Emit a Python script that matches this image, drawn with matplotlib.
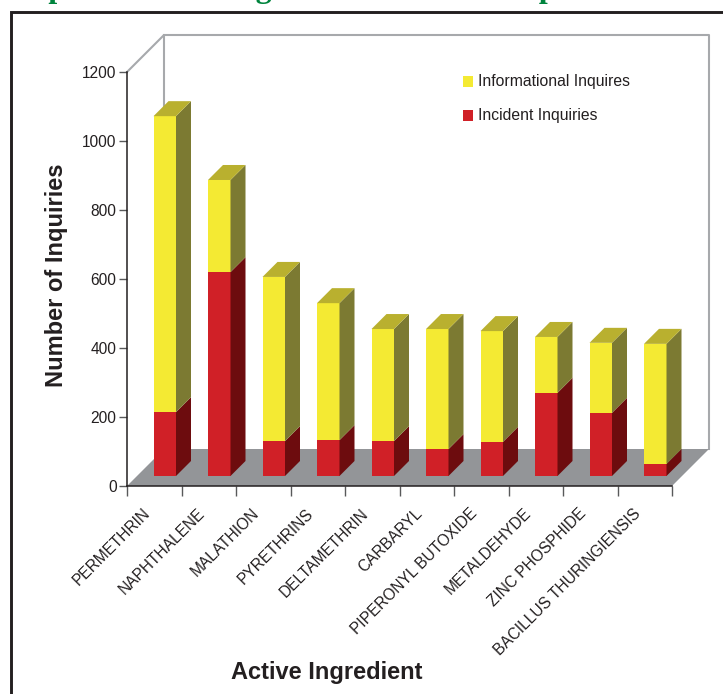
import matplotlib
matplotlib.use("Agg")
import matplotlib.pyplot as plt
from matplotlib.patches import Polygon, Rectangle

plt.rcParams['font.family'] = ['Liberation Sans', 'DejaVu Sans']

categories = ["PERMETHRIN", "NAPHTHALENE", "MALATHION", "PYRETHRINS", "DELTAMETHRIN",
              "CARBARYL", "PIPERONYL BUTOXIDE", "METALDEHYDE", "ZINC PHOSPHIDE",
              "BACILLUS THURINGIENSIS"]
incident = [185, 591, 101, 104, 101, 78, 99, 241, 183, 35]
informational = [858, 267, 476, 397, 325, 348, 321, 162, 203, 348]
y_ticks = [0, 200, 400, 600, 800, 1000, 1200]
series_names = ["Informational Inquires", "Incident Inquiries"]

W, H = 723, 694
L, R, B, T = 127, 672, 486, 72
fig = plt.figure(figsize=(W / 100, H / 100), dpi=100, facecolor="white")
ax = fig.add_axes([L / W, 1 - B / H, (R - L) / W, (B - T) / H])
ax.set_xlim(0, len(categories))
ax.set_ylim(0, 1200)
ax.patch.set_alpha(0)
for s in ("top", "right"):
    ax.spines[s].set_visible(False)
for s in ("left", "bottom"):
    ax.spines[s].set_linewidth(1.1)
    ax.spines[s].set_color("#231f20")
    ax.spines[s].set_zorder(6)

px = len(categories) / (R - L)   # data x per pixel
py = 1200 / (B - T)              # data y per pixel

GREY = "#a7a9ac"
n = len(categories)
# floor and walls
dx, dy = 37 * px, 37 * py
ax.add_patch(Polygon([(0, 0), (n, 0), (n + dx, dy), (dx, dy)], closed=True,
                     fc="#939598", ec="none", zorder=1, clip_on=False))
ax.plot([0, dx, dx], [1200, 1200 + dy, dy], color=GREY, lw=1.5, zorder=1.5, clip_on=False)
ax.plot([dx, n + dx, n + dx], [1200 + dy, 1200 + dy, dy], color=GREY, lw=1.5, zorder=0.5, clip_on=False)

# bars
bw = 22.5 * px
shift = 10.5 * px
depth_x, depth_y = 15 * px, 15 * py
base = 10 * py
def bar3d(x0, y0, y1, front, side, top=None, z=3):
    x1 = x0 + bw
    ax.add_patch(Rectangle((x0, y0), bw, y1 - y0, fc=front, ec="none", zorder=z, clip_on=False))
    ax.add_patch(Polygon([(x1, y0), (x1 + depth_x, y0 + depth_y), (x1 + depth_x, y1 + depth_y), (x1, y1)],
                         closed=True, fc=side, ec="none", zorder=z, clip_on=False))
    if top:
        ax.add_patch(Polygon([(x0, y1), (x1, y1), (x1 + depth_x, y1 + depth_y), (x0 + depth_x, y1 + depth_y)],
                             closed=True, fc=top, ec="none", zorder=z, clip_on=False))

for i, (a, b) in enumerate(zip(incident, informational)):
    x0 = i + 0.5 - bw / 2 + shift
    bar3d(x0, base, base + a, "#d02027", "#6d0c0e", z=3 + i * 0.01)
    bar3d(x0, base + a, base + a + b, "#f4ea33", "#7c7a32", "#b9b02f", z=3 + i * 0.01)

# axes furniture
ax.set_yticks(y_ticks)
ax.set_xticks(range(n + 1))
ax.set_xticklabels([])
ax.tick_params(axis="y", length=6, width=1.0, color="#58595b", labelsize=11.2, labelcolor="#231f20", pad=1.5)
ax.tick_params(axis="x", length=7.5, width=1.0, color="#58595b")
ax.get_xticklines()[0].set_color("#231f20")

for i, c in enumerate(categories):
    ax.annotate(c, xy=(i + 1, 0), xycoords="data", xytext=(-34, -25), textcoords="offset pixels",
                rotation=45, rotation_mode="anchor", ha="right", va="center",
                fontsize=11.2, color="#231f20", annotation_clip=False)

# legend
for name, col, y in zip(series_names, ["#f4ea33", "#d02027"], [81.5, 115.5]):
    fig.patches.append(Rectangle((463 / W, 1 - (y + 5) / H), 10 / W, 10 / H, transform=fig.transFigure,
                                 fc=col, ec="none"))
    fig.text(477.5 / W, 1 - y / H, name, fontsize=11.3, color="#231f20", va="center", ha="left")

# labels
fig.text(56 / W, 1 - 275.5 / H, "Number of Inquiries", rotation=90, fontsize=17, fontweight="bold",
         color="#231f20", ha="center", va="center")
fig.text(326.5 / W, 1 - 672 / H, "Active Ingredient", fontsize=17, fontweight="bold",
         color="#231f20", ha="center", va="center")

# frame (page crop)
fig.add_artist(plt.Line2D([11.3 / W, 11.3 / W, 1], [0, 1 - 11.5 / H, 1 - 11.5 / H], color="#231f20", lw=2.1,
                          transform=fig.transFigure, solid_joinstyle="miter"))
# title cut off by top edge
fig.text(14 / W, 1 + 3 / H, "Top Ten Active Ingredients in Total Reports", fontsize=23, fontweight="bold",
         family="Liberation Serif", color="#00843d", ha="left", va="baseline")

fig.savefig("out.png", dpi=100)
